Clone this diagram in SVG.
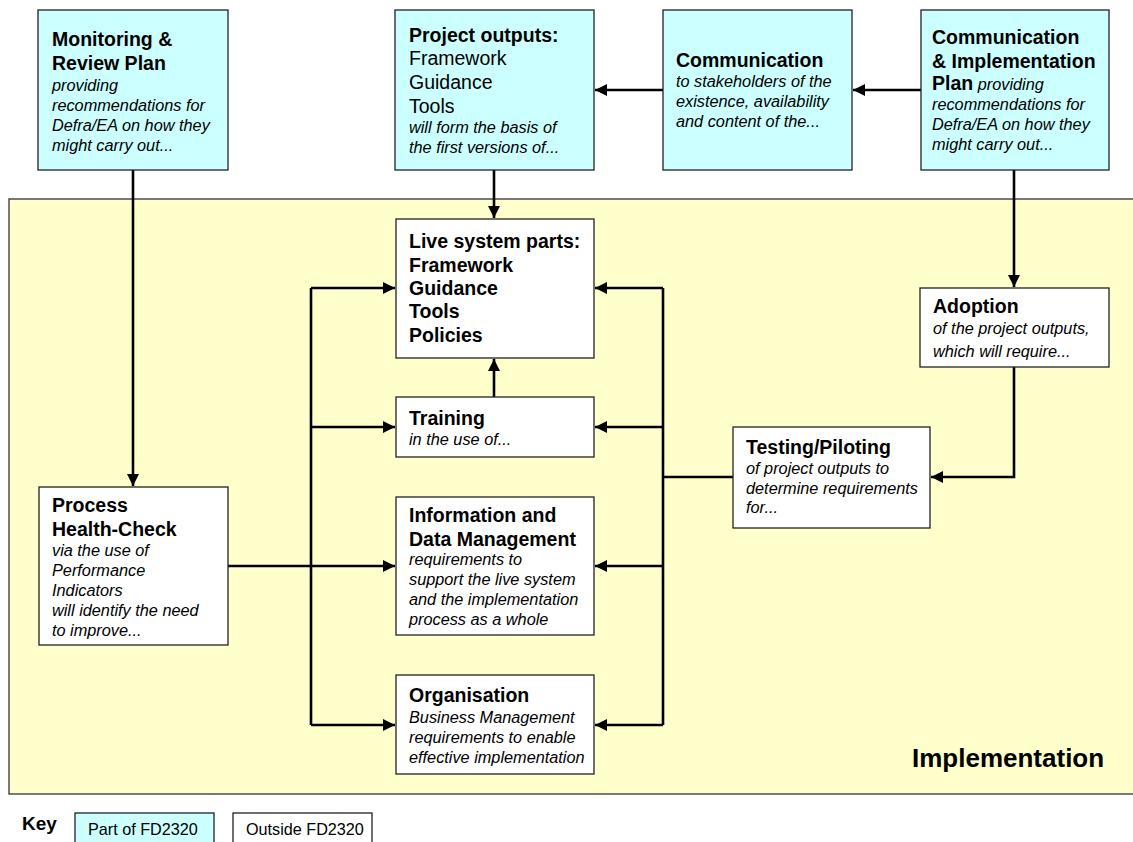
<svg xmlns="http://www.w3.org/2000/svg" width="1133" height="842" viewBox="0 0 1133 842">
<style>
text{font-family:"Liberation Sans",Arial,sans-serif;fill:#000}
.t{font-size:19.5px;font-weight:bold}
.r{font-size:19.5px}
.i{font-size:16.3px;font-style:italic}
.cy{fill:#CCFFFF;stroke:#222;stroke-width:1.3}
.wh{fill:#FFFFFF;stroke:#222;stroke-width:1.3}
.c{fill:none;stroke:#000;stroke-width:2.6}
.ca{fill:none;stroke:#000;stroke-width:2.6;marker-end:url(#ah)}
</style>
<defs>
<marker id="ah" markerUnits="userSpaceOnUse" markerWidth="13" markerHeight="12" refX="12" refY="6" orient="auto">
<path d="M0,0 L12,6 L0,12 z" fill="#000"/>
</marker>
</defs>
<rect width="1133" height="842" fill="#FFFFFF"/>
<g id="implementation-area">
<rect x="9" y="199" width="1130" height="595" fill="#FFFFCC" stroke="#333" stroke-width="1.3"/>
<text x="912" y="767" style="font-size:26px;font-weight:bold">Implementation</text>
</g>
<g id="connectors">
<line class="ca" x1="921" y1="90" x2="853" y2="90"/>
<line class="ca" x1="663" y1="90" x2="595" y2="90"/>
<line class="ca" x1="494" y1="170" x2="494" y2="218"/>
<line class="ca" x1="133" y1="170" x2="133" y2="486"/>
<line class="ca" x1="1014" y1="170" x2="1014" y2="287"/>
<polyline class="ca" points="1014,367 1014,477 931,477"/>
<line class="ca" x1="494" y1="397" x2="494" y2="359"/>
<line class="c" x1="733" y1="477" x2="663" y2="477"/>
<line class="c" x1="663" y1="288" x2="663" y2="725"/>
<line class="ca" x1="663" y1="288" x2="595" y2="288"/>
<line class="ca" x1="663" y1="427" x2="595" y2="427"/>
<line class="ca" x1="663" y1="566" x2="595" y2="566"/>
<line class="ca" x1="663" y1="725" x2="595" y2="725"/>
<line class="c" x1="228" y1="566" x2="311" y2="566"/>
<line class="c" x1="311" y1="288" x2="311" y2="725"/>
<line class="ca" x1="311" y1="288" x2="395" y2="288"/>
<line class="ca" x1="311" y1="427" x2="395" y2="427"/>
<line class="ca" x1="311" y1="566" x2="395" y2="566"/>
<line class="ca" x1="311" y1="725" x2="395" y2="725"/>
</g>
<g id="monitoring">
<rect class="cy" x="38" y="10" width="190" height="160"/>
<text class="t" x="52" y="46">Monitoring &amp;</text>
<text class="t" x="52" y="70">Review Plan</text>
<text class="i" x="52" y="91">providing</text>
<text class="i" x="52" y="111">recommendations for</text>
<text class="i" x="52" y="131">Defra/EA on how they</text>
<text class="i" x="52" y="151">might carry out...</text>
</g>
<g id="project-outputs">
<rect class="cy" x="395" y="10" width="199" height="160"/>
<text class="t" x="409" y="42">Project outputs:</text>
<text class="r" x="409" y="65">Framework</text>
<text class="r" x="409" y="89">Guidance</text>
<text class="r" x="409" y="113">Tools</text>
<text class="i" x="409" y="133">will form the basis of</text>
<text class="i" x="409" y="153">the first versions of...</text>
</g>
<g id="communication">
<rect class="cy" x="663" y="10" width="189" height="160"/>
<text class="t" x="676" y="67">Communication</text>
<text class="i" x="676" y="87">to stakeholders of the</text>
<text class="i" x="676" y="107">existence, availability</text>
<text class="i" x="676" y="127">and content of the...</text>
</g>
<g id="comm-impl-plan">
<rect class="cy" x="921" y="10" width="188" height="160"/>
<text class="t" x="932" y="44">Communication</text>
<text class="t" x="932" y="68">&amp; Implementation</text>
<text x="932" y="90"><tspan class="t">Plan</tspan><tspan class="i"> providing</tspan></text>
<text class="i" x="932" y="110">recommendations for</text>
<text class="i" x="932" y="130">Defra/EA on how they</text>
<text class="i" x="932" y="150">might carry out...</text>
</g>
<g id="live-system">
<rect class="wh" x="396" y="219" width="198" height="139"/>
<text class="t" x="409" y="248">Live system parts:</text>
<text class="t" x="409" y="272">Framework</text>
<text class="t" x="409" y="295">Guidance</text>
<text class="t" x="409" y="318">Tools</text>
<text class="t" x="409" y="342">Policies</text>
</g>
<g id="training">
<rect class="wh" x="396" y="397" width="198" height="60"/>
<text class="t" x="409" y="425">Training</text>
<text class="i" x="409" y="445">in the use of...</text>
</g>
<g id="info-data">
<rect class="wh" x="396" y="497" width="198" height="138"/>
<text class="t" x="409" y="522">Information and</text>
<text class="t" x="409" y="546">Data Management</text>
<text class="i" x="409" y="565">requirements to</text>
<text class="i" x="409" y="585">support the live system</text>
<text class="i" x="409" y="605">and the implementation</text>
<text class="i" x="409" y="625">process as a whole</text>
</g>
<g id="organisation">
<rect class="wh" x="396" y="675" width="198" height="99"/>
<text class="t" x="409" y="702">Organisation</text>
<text class="i" x="409" y="723">Business Management</text>
<text class="i" x="409" y="743">requirements to enable</text>
<text class="i" x="409" y="763">effective implementation</text>
</g>
<g id="process-health">
<rect class="wh" x="39" y="487" width="189" height="158"/>
<text class="t" x="52" y="512">Process</text>
<text class="t" x="52" y="536">Health-Check</text>
<text class="i" x="52" y="556">via the use of</text>
<text class="i" x="52" y="576">Performance</text>
<text class="i" x="52" y="596">Indicators</text>
<text class="i" x="52" y="616">will identify the need</text>
<text class="i" x="52" y="636">to improve...</text>
</g>
<g id="adoption">
<rect class="wh" x="920" y="288" width="189" height="79"/>
<text class="t" x="933" y="313">Adoption</text>
<text class="i" x="933" y="334">of the project outputs,</text>
<text class="i" x="933" y="357">which will require...</text>
</g>
<g id="testing">
<rect class="wh" x="733" y="427" width="197" height="101"/>
<text class="t" x="746" y="454">Testing/Piloting</text>
<text class="i" x="746" y="474">of project outputs to</text>
<text class="i" x="746" y="494">determine requirements</text>
<text class="i" x="746" y="513">for...</text>
</g>
<g id="key">
<text x="22" y="830" style="font-size:19px;font-weight:bold">Key</text>
<rect class="cy" x="75" y="813" width="139" height="40"/>
<text x="88" y="835" style="font-size:16.2px">Part of FD2320</text>
<rect class="wh" x="233" y="813" width="139" height="40"/>
<text x="246" y="835" style="font-size:16.2px">Outside FD2320</text>
</g>
</svg>
